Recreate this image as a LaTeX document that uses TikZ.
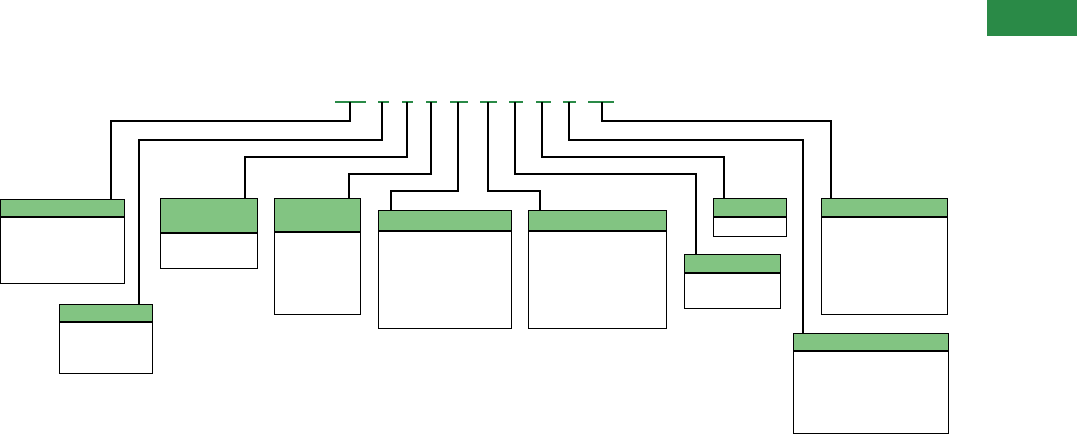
\documentclass[tikz,border=0pt]{standalone}
\definecolor{dkgreen}{HTML}{2A8A47}
\definecolor{hdrgreen}{HTML}{82C482}
\tikzset{
  conn/.style={draw=black, line width=1.3pt},
  tapline/.style={draw=dkgreen, line width=1.3pt},
  boxnode/.style={draw=black, line width=1.3pt, rectangle, inner sep=0pt, anchor=north west},
}
\newcommand{\mybox}[6]{% name, left, top, right, bottom, headerbottom
  \fill[hdrgreen] (#2,#3) rectangle (#4,#6);
  \draw[line width=1.3pt] (#2,#6) -- (#4,#6);
  \node[boxnode, minimum width={(#4-#2)*1pt}, minimum height={(#5-#3)*1pt}] (#1) at (#2,#3) {};
}
\newcommand{\mytap}[4]{% name, x1, x2, dropx
  \draw[tapline] (#2,102) -- (#3,102);
  \coordinate (#1) at (#4,102);
}
\begin{document}
\begin{tikzpicture}[x=1pt,y=-1pt]
\useasboundingbox (0,0) rectangle (1077,434);
% top-right green block
\fill[dkgreen] (987,0) rectangle (1077,36);
% taps
\mytap{t1}{335}{366}{350}
\mytap{t2}{378}{389}{382}
\mytap{t3}{402}{413}{407}
\mytap{t4}{426}{437}{431}
\mytap{t5}{450}{468}{458}
\mytap{t6}{480}{497}{488}
\mytap{t7}{509}{523}{515}
\mytap{t8}{536}{551}{542}
\mytap{t9}{563}{576}{569}
\mytap{t10}{588}{614}{602}
% boxes
\mybox{b1}{0}{199}{124}{283}{217}
\mybox{b2}{59}{304}{152}{373}{322}
\mybox{b3}{160}{198}{257}{268}{233}
\mybox{b4}{274}{198}{360}{314}{232}
\mybox{b5}{378}{210}{511}{328}{231}
\mybox{b6}{528}{210}{666}{328}{231}
\mybox{b7}{684}{254}{780}{308}{273}
\mybox{b8}{713}{198}{786}{236}{217}
\mybox{b9}{793}{333}{948}{433}{351}
\mybox{b10}{821}{198}{947}{314}{217}
% entry points
\coordinate (e1) at (111,199);
\coordinate (e2) at (139,304);
\coordinate (e3) at (245,198);
\coordinate (e4) at (349,198);
\coordinate (e5) at (391,210);
\coordinate (e6) at (540,210);
\coordinate (e7) at (696,254);
\coordinate (e8) at (724,198);
\coordinate (e9) at (803,333);
\coordinate (e10) at (831,198);
% connectors
\draw[conn] (t1) -- ++(0,19) -| (e1 |- b1.north);
\draw[conn] (t2) -- ++(0,38) -| (e2 |- b2.north);
\draw[conn] (t3) -- ++(0,55) -| (e3 |- b3.north);
\draw[conn] (t4) -- ++(0,72) -| (e4 |- b4.north);
\draw[conn] (t5) -- ++(0,89) -| (e5 |- b5.north);
\draw[conn] (t6) -- ++(0,89) -| (e6 |- b6.north);
\draw[conn] (t7) -- ++(0,72) -| (e7 |- b7.north);
\draw[conn] (t8) -- ++(0,55) -| (e8 |- b8.north);
\draw[conn] (t9) -- ++(0,38) -| (e9 |- b9.north);
\draw[conn] (t10) -- ++(0,19) -| (e10 |- b10.north);
\end{tikzpicture}
\end{document}
